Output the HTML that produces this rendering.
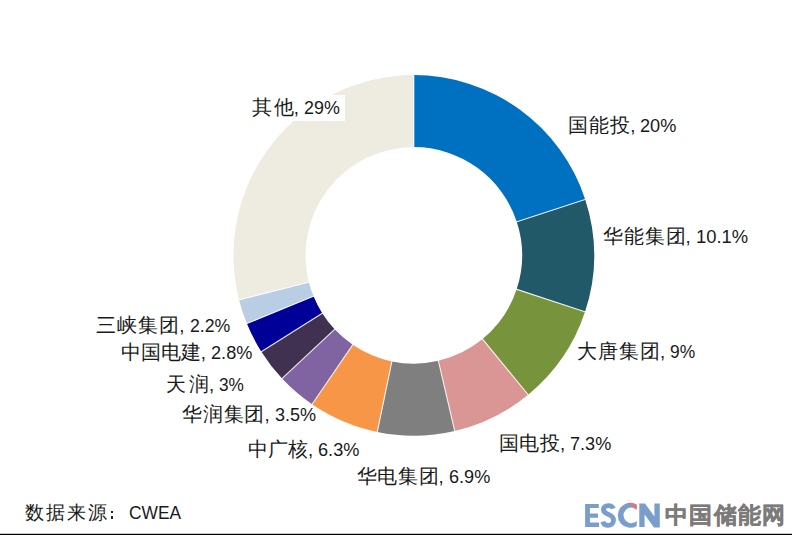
<!DOCTYPE html>
<html><head><meta charset="utf-8"><style>
html,body{margin:0;padding:0;background:#fff;}
body{width:792px;height:535px;position:relative;overflow:hidden;font-family:"Liberation Sans",sans-serif;color:#1a1a1a;}
svg{position:absolute;left:0;top:0}
.lb{position:absolute;font-size:20px;line-height:20px;white-space:nowrap;padding:2px 4px 3px 3px;margin:-2px -4px -3px -3px}
#l0{background:#fff}
.cm{font-size:18.6px}
.sp{display:inline-block;width:5.2px}
.n{display:inline-block;font-size:18.6px;transform-origin:0 50%}
.sx{position:absolute;white-space:nowrap;line-height:22px}
#s1{left:25px;top:502px;font-size:19px;letter-spacing:2.1px}
.dot{position:absolute;left:110.8px;width:2.6px;height:2.4px;background:#222}
#s3{left:128.6px;top:501.7px;font-size:18.8px;transform:scaleX(0.925);transform-origin:0 0}
#zg{position:absolute;left:665px;top:502px;color:#7D7A7A;font-size:23px;line-height:26px;font-weight:bold;letter-spacing:1.35px;white-space:nowrap;-webkit-text-stroke:0.4px #7D7A7A}
#line{position:absolute;left:0;top:534px;width:792px;height:1px;background:#000;box-shadow:0 -1px 0 #c8c8c8}
</style></head><body>
<svg width="792" height="535" viewBox="0 0 792 535">
<path d="M413.80,75.10A180.3,180.3 0 0 1 585.21,199.47L516.76,221.80A108.3,108.3 0 0 0 413.80,147.10Z" fill="#0070C0"/><path d="M585.21,199.47A180.3,180.3 0 0 1 585.03,311.87L516.65,289.32A108.3,108.3 0 0 0 516.76,221.80Z" fill="#215968"/><path d="M585.03,311.87A180.3,180.3 0 0 1 528.19,394.76L482.51,339.11A108.3,108.3 0 0 0 516.65,289.32Z" fill="#77933C"/><path d="M528.19,394.76A180.3,180.3 0 0 1 454.75,430.99L438.40,360.87A108.3,108.3 0 0 0 482.51,339.11Z" fill="#D99694"/><path d="M454.75,430.99A180.3,180.3 0 0 1 377.27,431.96L391.86,361.45A108.3,108.3 0 0 0 438.40,360.87Z" fill="#7F7F7F"/><path d="M377.27,431.96A180.3,180.3 0 0 1 312.08,404.26L352.70,344.82A108.3,108.3 0 0 0 391.86,361.45Z" fill="#F79646"/><path d="M312.08,404.26A180.3,180.3 0 0 1 282.08,378.52L334.68,329.35A108.3,108.3 0 0 0 352.70,344.82Z" fill="#8064A2"/><path d="M282.08,378.52A180.3,180.3 0 0 1 261.36,351.68L322.24,313.23A108.3,108.3 0 0 0 334.68,329.35Z" fill="#403151"/><path d="M261.36,351.68A180.3,180.3 0 0 1 246.87,323.55L313.53,296.33A108.3,108.3 0 0 0 322.24,313.23Z" fill="#000099"/><path d="M246.87,323.55A180.3,180.3 0 0 1 239.08,299.92L308.85,282.14A108.3,108.3 0 0 0 313.53,296.33Z" fill="#B9CDE5"/><path d="M239.08,299.92A180.3,180.3 0 0 1 413.80,75.10L413.80,147.10A108.3,108.3 0 0 0 308.85,282.14Z" fill="#EEECE1"/>
<g stroke="#fff" stroke-width="1.1" stroke-opacity="0.85"><line x1="413.80" y1="74.50" x2="413.80" y2="147.70"/><line x1="585.78" y1="199.28" x2="516.19" y2="221.99"/><line x1="585.60" y1="312.06" x2="516.08" y2="289.13"/><line x1="528.58" y1="395.23" x2="482.13" y2="338.65"/><line x1="454.88" y1="431.57" x2="438.26" y2="360.29"/><line x1="377.15" y1="432.55" x2="391.98" y2="360.87"/><line x1="311.74" y1="404.76" x2="353.04" y2="344.32"/><line x1="281.64" y1="378.93" x2="335.12" y2="328.94"/><line x1="260.85" y1="352.00" x2="322.74" y2="312.91"/><line x1="246.32" y1="323.77" x2="314.09" y2="296.11"/><line x1="238.50" y1="300.07" x2="309.44" y2="281.99"/></g>
</svg>
<div class="lb" id="l0" style="left:251.66px;top:96.80px"><span class="c" style="letter-spacing:2.13px;margin-right:-2.13px">其他</span><span class="cm">,</span><span class="sp" style="margin-left:0.00px"></span><span class="n" style="transform:scaleX(0.962)">29%</span></div><div class="lb" id="l1" style="left:568.30px;top:115.10px"><span class="c" style="letter-spacing:1.00px;margin-right:-1.00px">国能投</span><span class="cm">,</span><span class="sp" style="margin-left:-0.38px"></span><span class="n" style="transform:scaleX(0.977)">20%</span></div><div class="lb" id="l2" style="left:602.58px;top:225.50px"><span class="c" style="letter-spacing:1.00px;margin-right:-1.00px">华能集团</span><span class="cm">,</span><span class="sp" style="margin-left:-0.19px"></span><span class="n" style="transform:scaleX(0.989)">10.1%</span></div><div class="lb" id="l3" style="left:577.10px;top:340.50px"><span class="c" style="letter-spacing:1.00px;margin-right:-1.00px">大唐集团</span><span class="cm">,</span><span class="sp" style="margin-left:-0.47px"></span><span class="n" style="transform:scaleX(0.936)">9%</span></div><div class="lb" id="l4" style="left:498.78px;top:433.40px"><span class="c" style="letter-spacing:0.59px;margin-right:-0.59px">国电投</span><span class="cm">,</span><span class="sp" style="margin-left:0.00px"></span><span class="n" style="transform:scaleX(0.974)">7.3%</span></div><div class="lb" id="l5" style="left:356.58px;top:465.50px"><span class="c" style="letter-spacing:0.67px;margin-right:-0.67px">华电集团</span><span class="cm">,</span><span class="sp" style="margin-left:0.00px"></span><span class="n" style="transform:scaleX(0.973)">6.9%</span></div><div class="lb" id="l6" style="left:247.52px;top:438.90px"><span class="c" style="letter-spacing:0.22px;margin-right:-0.22px">中广核</span><span class="cm">,</span><span class="sp" style="margin-left:0.00px"></span><span class="n" style="transform:scaleX(0.978)">6.3%</span></div><div class="lb" id="l7" style="left:182.08px;top:403.50px"><span class="c" style="letter-spacing:0.77px;margin-right:-0.77px">华润集团</span><span class="cm">,</span><span class="sp" style="margin-left:0.00px"></span><span class="n" style="transform:scaleX(0.970)">3.5%</span></div><div class="lb" id="l8" style="left:166.30px;top:373.80px"><span class="c" style="letter-spacing:2.73px;margin-right:-2.73px">天润</span><span class="cm">,</span><span class="sp" style="margin-left:0.00px"></span><span class="n" style="transform:scaleX(0.927)">3%</span></div><div class="lb" id="l9" style="left:120.72px;top:341.80px"><span class="c" style="letter-spacing:0.03px;margin-right:-0.03px">中国电建</span><span class="cm">,</span><span class="sp" style="margin-left:0.00px"></span><span class="n" style="transform:scaleX(0.976)">2.8%</span></div><div class="lb" id="l10" style="left:96.28px;top:315.10px"><span class="c" style="letter-spacing:1.00px;margin-right:-1.00px">三峡集团</span><span class="cm">,</span><span class="sp" style="margin-left:0.02px"></span><span class="n" style="transform:scaleX(0.952)">2.2%</span></div>
<div id="s1" class="sx">数据来源</div><div id="s2"><div class="dot" style="top:510.6px"></div><div class="dot" style="top:516.2px"></div></div><div id="s3" class="sx">CWEA</div>
<svg id="escn" width="792" height="535" viewBox="0 0 792 535" fill="#7A9ECC"><path d="M585.1,503.9H598.8V508.1H589.9V513.5H598V517.7H589.9V522.4H599.1V526.9H585.1Z"/>
<path d="M613.3,508.6C612.6,506.4 610.8,505.6 608.3,505.6C605.3,505.6 603.4,507.2 603.4,509.5C603.4,512.6 606.2,513.6 608.6,514.5C611.2,515.5 613.5,516.6 613.5,520.2C613.5,523.3 611.2,525.4 608,525.4C605.3,525.4 603.5,524.2 602.8,521.6" fill="none" stroke="#7A9ECC" stroke-width="4.8"/>
<path d="M636.7,504.8A12.4,12.4 0 1 0 636.7,525.9L636.7,521A7.8,7.8 0 1 1 636.7,509.7Z"/>
<path d="M626.34,503.46 L627.08,503.25 L627.83,503.08 L628.60,502.95 L629.37,502.88 L630.14,502.85 L630.91,502.87 L631.68,502.94 L632.44,503.05 L633.20,503.22 L633.94,503.42 L634.67,503.68 L635.39,503.98 L636.08,504.32 L636.75,504.70 L636.75,509.30 L634.39,508.54 L634.13,507.97 L633.81,507.43 L633.44,506.89 L633.01,506.39 L632.53,505.91 L632.01,505.46 L631.43,505.05 L630.81,504.69 L630.15,504.37 L629.45,504.11 L628.72,503.91 L627.97,503.77 L627.20,503.71 L626.43,503.75Z" fill="#E8707A"/>
<path d="M639.3,503.4H645L654.4,516.5V503.4H659.8V527.5H654L644.6,514.4V526.9H639.3Z"/></svg><div id="zg">中国储能网</div>
<div id="line"></div>
</body></html>
